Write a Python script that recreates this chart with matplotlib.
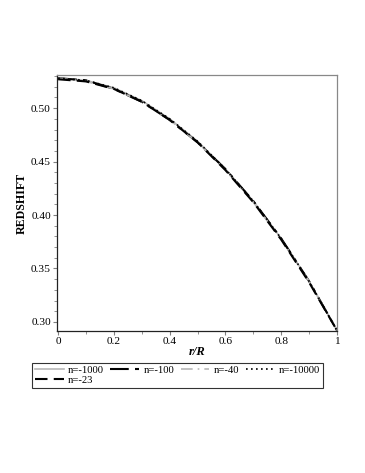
import matplotlib

matplotlib.use("Agg")
import matplotlib.pyplot as plt
from matplotlib.ticker import MultipleLocator

plt.rcParams["font.family"] = ["Liberation Serif", "DejaVu Serif"]

# radial coordinate r/R
r = [0.0, 0.1, 0.2, 0.3, 0.4, 0.5, 0.6, 0.7, 0.8, 0.9, 1.0]

# redshift curves (all nearly coincide)
z_1000 = [0.528, 0.526, 0.519, 0.507, 0.490, 0.469, 0.443, 0.413, 0.378, 0.338, 0.292]
z_100 = [0.528, 0.526, 0.518, 0.506, 0.489, 0.468, 0.443, 0.413, 0.378, 0.338, 0.292]
z_40 = [0.528, 0.525, 0.518, 0.506, 0.489, 0.468, 0.442, 0.412, 0.377, 0.338, 0.292]
z_10000 = [0.528, 0.526, 0.519, 0.507, 0.490, 0.469, 0.443, 0.413, 0.378, 0.338, 0.292]
z_23 = [0.527, 0.525, 0.518, 0.506, 0.489, 0.468, 0.442, 0.412, 0.377, 0.337, 0.292]

x_ticks = [0, 0.2, 0.4, 0.6, 0.8, 1.0]
x_ticklabels = ["0", "0.2", "0.4", "0.6", "0.8", "1"]
y_ticks = [0.30, 0.35, 0.40, 0.45, 0.50]
y_ticklabels = ["0.30", "0.35", "0.40", "0.45", "0.50"]

series = [
    ("n=-1000", z_1000, dict(color="#b8b8b8", ls="-", lw=1.2)),
    ("n=-100", z_100, dict(color="black", ls=(0, (9, 3, 2, 3)), lw=1.5)),
    ("n=-40", z_40, dict(color="#b8b8b8", ls=(0, (7, 3, 1, 3)), lw=1.2)),
    ("n=-10000", z_10000, dict(color="black", ls=(0, (1, 2)), lw=1.2)),
    ("n=-23", z_23, dict(color="black", ls=(0, (6, 3)), lw=1.5)),
]

fig = plt.figure(figsize=(3.65, 4.73), dpi=100)
ax = fig.add_axes([57 / 365, 1 - 331 / 473, 280 / 365, 256 / 473])
lines = {}
for label, z, style in series:
    (lines[label],) = ax.plot(r, z, label=label, **style)

ax.set_xlim(-0.004, 1.0)
ax.set_ylim(0.2915, 0.531)
ax.xaxis.set_minor_locator(MultipleLocator(0.1))
ax.yaxis.set_minor_locator(MultipleLocator(0.01))
ax.set_xticks(x_ticks)
ax.set_xticklabels(x_ticklabels)
ax.set_yticks(y_ticks)
ax.set_yticklabels(y_ticklabels)
ax.tick_params(which="both", direction="out", labelsize=8.2, color="#808080", pad=1.5)
ax.tick_params(which="major", length=3)
ax.tick_params(which="minor", length=2)
for side in ("left", "bottom"):
    ax.spines[side].set_color("#222222")
for side in ("top", "right"):
    ax.spines[side].set_color("#888888")
for s in ax.spines.values():
    s.set_linewidth(0.9)

ax.set_xlabel("r/R", fontsize=9, fontweight="bold", style="italic", labelpad=0)
ax.set_ylabel("REDSHIFT", fontsize=8.6, fontweight="bold", labelpad=2)

# row-major order: matplotlib fills legend columns first
order = ["n=-1000", "n=-23", "n=-100", "n=-40", "n=-10000"]
leg = fig.legend(
    [lines[k] for k in order],
    order,
    loc="upper left",
    bbox_to_anchor=(32 / 365, 1 - 363 / 473),
    ncol=4,
    fontsize=7.7,
    frameon=True,
    fancybox=False,
    edgecolor="black",
    handlelength=2.7,
    columnspacing=0.6,
    handletextpad=0.4,
    borderpad=0.25,
    borderaxespad=0,
    labelspacing=0.05,
)
leg.get_frame().set_linewidth(0.8)

fig.savefig("out.png", dpi=100)
